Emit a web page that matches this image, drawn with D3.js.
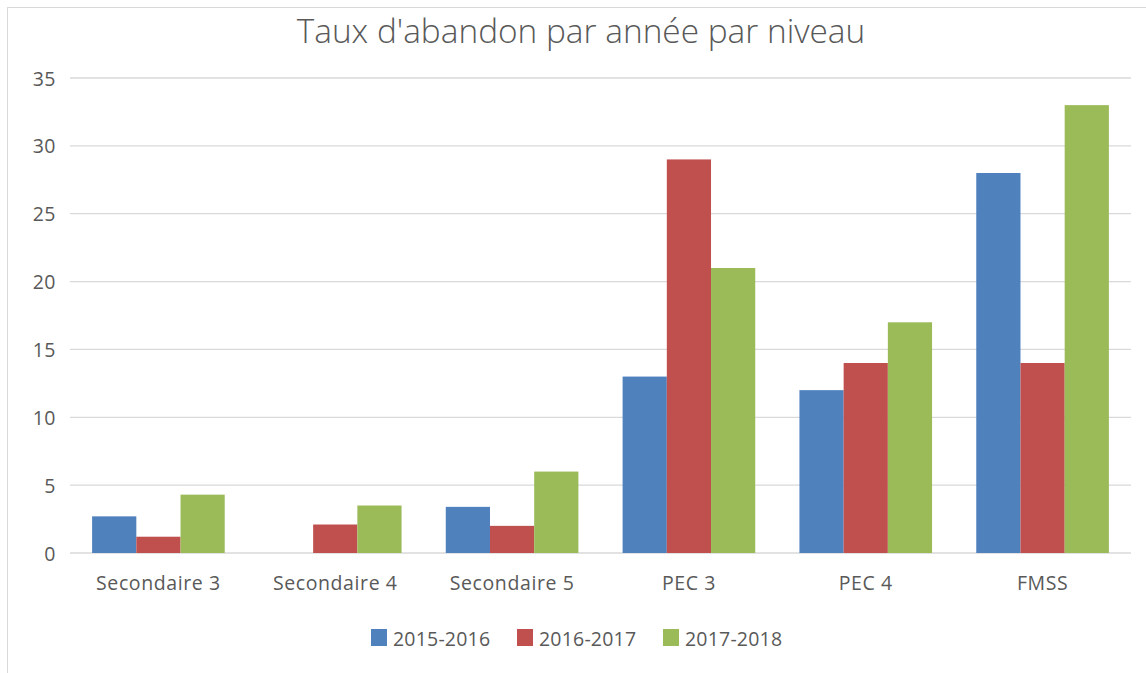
<!DOCTYPE html>
<html><head><meta charset="utf-8">
<script src="https://cdn.jsdelivr.net/npm/d3@7"></script>
<style>body{margin:0;background:#fff;font-family:"Open Sans",sans-serif;}</style>
</head><body>
<svg id="c" width="1146" height="673"></svg>
<script>
const categories = ["Secondaire 3","Secondaire 4","Secondaire 5","PEC 3","PEC 4","FMSS"];
const seriesNames = ["2015-2016","2016-2017","2017-2018"];
const s2015 = [2.7, 0, 3.4, 13, 12, 28];
const s2016 = [1.2, 2.1, 2, 29, 14, 14];
const s2017 = [4.3, 3.5, 6, 21, 17, 33];
const yTicks = [0,5,10,15,20,25,30,35];
const colors = ["#4f81bd","#c0504d","#9bbb59"];
const title = "Taux d'abandon par année par niveau";

const series = [s2015, s2016, s2017];
const svg = d3.select("#c");
svg.append("rect").attr("x",7.5).attr("y",7.5).attr("width",1150).attr("height",680)
  .attr("fill","#fff").attr("stroke","#d9d9d9");

const x0 = d3.scaleBand().domain(categories).range([70,1131]).paddingInner(0.25).paddingOuter(0.125);
const x1 = d3.scaleBand().domain(seriesNames).range([0,x0.bandwidth()]);
const y = d3.scaleLinear().domain([0,35]).range([553,78]);

const g = svg.append("g");
g.selectAll("line.grid").data(yTicks).enter().append("line")
  .attr("x1",70).attr("x2",1131).attr("y1",d=>y(d)).attr("y2",d=>y(d))
  .attr("stroke","#d9d9d9").attr("stroke-width",1.3);

const yAxis = d3.axisLeft(y).tickValues(yTicks).tickSize(0).tickPadding(0);
const ya = svg.append("g").attr("transform","translate(56,0)").call(yAxis);
ya.select(".domain").remove();
ya.selectAll("text").attr("fill","#595959").attr("dy","0.36em").style("font-size","19.5px").style("letter-spacing","0.5px").style("font-family","Open Sans");

const groups = svg.selectAll("g.cat").data(categories).enter().append("g")
  .attr("transform",d=>`translate(${x0(d)},0)`);
groups.selectAll("rect").data((d,i)=>series.map((s,j)=>({name:seriesNames[j],v:s[i],c:colors[j]})))
  .enter().append("rect")
  .attr("x",d=>x1(d.name)).attr("width",x1.bandwidth())
  .attr("y",d=>y(d.v)).attr("height",d=>y(0)-y(d.v)).attr("fill",d=>d.c);

const xAxis = d3.axisBottom(x0).tickSize(0).tickPadding(0);
const xa = svg.append("g").attr("transform","translate(0,0)").call(xAxis);
xa.select(".domain").remove();
xa.selectAll("text").attr("y",590).attr("dy",0).attr("fill","#595959").style("font-size","19.5px").style("letter-spacing","0.6px").style("font-family","Open Sans");

svg.append("text").attr("x",581).attr("y",43).attr("text-anchor","middle")
  .attr("fill","#595959").style("font-size","33.4px").style("font-weight","350").style("font-family","Open Sans").text(title);

const legX = [371,517,663];
const leg = svg.selectAll("g.leg").data(seriesNames).enter().append("g")
  .attr("transform",(d,i)=>`translate(${legX[i]},629)`);
leg.append("rect").attr("width",16).attr("height",17).attr("fill",(d,i)=>colors[i]);
leg.append("text").attr("x",22).attr("y",17).attr("fill","#595959")
  .style("font-size","19.5px").style("letter-spacing","0.2px").style("font-family","Open Sans").text(d=>d);
</script>
</body></html>
